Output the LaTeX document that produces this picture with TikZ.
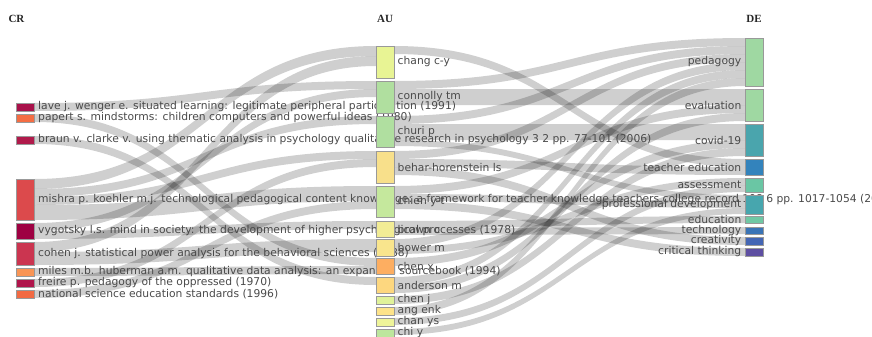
\documentclass[tikz,border=0pt]{standalone}
\usepackage{fontspec}
\setmainfont{DejaVu Sans}
\newfontfamily\hdrfont{Liberation Serif}
\usetikzlibrary{calc}
\pgfdeclarelayer{bg}
\pgfsetlayers{bg,main}
% CR colours
\definecolor{cLave}{HTML}{A8114A}
\definecolor{cPapert}{HTML}{F46D43}
\definecolor{cBraun}{HTML}{B01A4B}
\definecolor{cMishra}{HTML}{DC4A4C}
\definecolor{cVyg}{HTML}{9E0142}
\definecolor{cCohen}{HTML}{CB3550}
\definecolor{cMiles}{HTML}{F99555}
\definecolor{cFreire}{HTML}{B0154B}
\definecolor{cNat}{HTML}{F26A43}
% AU colours
\definecolor{cChang}{HTML}{E8F494}
\definecolor{cConn}{HTML}{B0DF9F}
\definecolor{cChuri}{HTML}{B0DFA0}
\definecolor{cBehar}{HTML}{F8E08B}
\definecolor{cChien}{HTML}{C5E89D}
\definecolor{cBrown}{HTML}{F2EC95}
\definecolor{cBower}{HTML}{F9E58D}
\definecolor{cChenx}{HTML}{FDAE61}
\definecolor{cAnd}{HTML}{FDD77F}
\definecolor{cChenj}{HTML}{E0F29A}
\definecolor{cAng}{HTML}{FDE38A}
\definecolor{cChan}{HTML}{EEF49A}
\definecolor{cChi}{HTML}{BDE69D}
% DE colours
\definecolor{cPed}{HTML}{9FD8A2}
\definecolor{cEval}{HTML}{9FD8A2}
\definecolor{cCovid}{HTML}{4AA5AD}
\definecolor{cTeach}{HTML}{3383BC}
\definecolor{cAss}{HTML}{6AC6A4}
\definecolor{cProf}{HTML}{47A6AE}
\definecolor{cEdu}{HTML}{70C8A4}
\definecolor{cTech}{HTML}{3A74B6}
\definecolor{cCrea}{HTML}{4466B4}
\definecolor{cCrit}{HTML}{5E4FA2}
\definecolor{lblc}{HTML}{4A4A4A}

\tikzset{
  nd/.style={draw=black!40, line width=0.4pt, inner sep=0pt, outer sep=0pt, minimum width=18pt},
  lblL/.style={anchor=west, text=lblc, inner sep=0pt, font=\fontsize{10.75}{11}\selectfont},
  lblR/.style={anchor=east, text=lblc, inner sep=0pt, font=\fontsize{10.75}{11}\selectfont},
  hdr/.style={text=black!85, inner sep=0pt, font=\hdrfont\bfseries\fontsize{11}{12}\selectfont},
  flowfill/.style={fill=black, fill opacity=0.19},
}
% node: name, left x, top y, bottom y, colour
\newcommand\mkbox[5]{\node[nd, fill=#5, minimum height={(#4-#3)*1pt}] (#1) at ({#2+9},{(#3+#4)/2}) {};}
% flow: source node, source top y, target node, target top y, width
\newcommand\flow[5]{%
  \begin{pgfonlayer}{bg}
  \path let \p1=(#1.east |- 0,#2), \p2=(#3.west |- 0,#4) in
    [flowfill] (\p1) .. controls ({(\x1+\x2)/2},\y1) and ({(\x1+\x2)/2},\y2) .. (\p2)
    -- (\x2,{\y2-#5pt}) .. controls ({(\x1+\x2)/2},{\y2-#5pt}) and ({(\x1+\x2)/2},{\y1-#5pt}) .. (\x1,{\y1-#5pt}) -- cycle;
  \end{pgfonlayer}}

\begin{document}
\begin{tikzpicture}[x=1pt,y=-1pt]
\useasboundingbox (0,0) rectangle (872,337);
\begin{pgfonlayer}{bg}
\fill[white] (0,0) rectangle (872,337);
\end{pgfonlayer}

% headers
\node[hdr] (hCR) at (16.5,18.5) {CR};
\node[hdr] (hAU) at (385,18.5) {AU};
\node[hdr] (hDE) at (754,18.5) {DE};

% CR column
\mkbox{cr1}{16.5}{103}{111}{cLave}
\node[lblL] (cr1l) at ($(cr1.east)+(3.5,0)$) {lave j. wenger e. situated learning: legitimate peripheral participation (1991)};
\mkbox{cr2}{16.5}{114}{122}{cPapert}
\node[lblL] (cr2l) at ($(cr2.east)+(3.5,0)$) {papert s. mindstorms: children computers and powerful ideas (1980)};
\mkbox{cr3}{16.5}{136}{144}{cBraun}
\node[lblL] (cr3l) at ($(cr3.east)+(3.5,0)$) {braun v. clarke v. using thematic analysis in psychology qualitative research in psychology 3 2 pp. 77-101 (2006)};
\mkbox{cr4}{16.5}{179}{220}{cMishra}
\node[lblL] (cr4l) at ($(cr4.east)+(3.5,0)$) {mishra p. koehler m.j. technological pedagogical content knowledge: a framework for teacher knowledge teachers college record 108 6 pp. 1017-1054 (2006)};
\mkbox{cr5}{16.5}{223}{239}{cVyg}
\node[lblL] (cr5l) at ($(cr5.east)+(3.5,0)$) {vygotsky l.s. mind in society: the development of higher psychological processes (1978)};
\mkbox{cr6}{16.5}{242}{265}{cCohen}
\node[lblL] (cr6l) at ($(cr6.east)+(3.5,0)$) {cohen j. statistical power analysis for the behavioral sciences (1988)};
\mkbox{cr7}{16.5}{268}{276}{cMiles}
\node[lblL] (cr7l) at ($(cr7.east)+(3.5,0)$) {miles m.b. huberman a.m. qualitative data analysis: an expanded sourcebook (1994)};
\mkbox{cr8}{16.5}{279}{287}{cFreire}
\node[lblL] (cr8l) at ($(cr8.east)+(3.5,0)$) {freire p. pedagogy of the oppressed (1970)};
\mkbox{cr9}{16.5}{290}{298}{cNat}
\node[lblL] (cr9l) at ($(cr9.east)+(3.5,0)$) {national science education standards (1996)};

% AU column
\mkbox{au1}{376}{46}{78}{cChang}
\node[lblL] (au1l) at ($(au1.east)+(3.5,0)$) {chang c-y};
\mkbox{au2}{376}{81}{113}{cConn}
\node[lblL] (au2l) at ($(au2.east)+(3.5,0)$) {connolly tm};
\mkbox{au3}{376}{116}{147}{cChuri}
\node[lblL] (au3l) at ($(au3.east)+(3.5,0)$) {churi p};
\mkbox{au4}{376}{151}{183}{cBehar}
\node[lblL] (au4l) at ($(au4.east)+(3.5,0)$) {behar-horenstein ls};
\mkbox{au5}{376}{186}{217}{cChien}
\node[lblL] (au5l) at ($(au5.east)+(3.5,0)$) {chien y-t};
\mkbox{au6}{376}{221}{237}{cBrown}
\node[lblL] (au6l) at ($(au6.east)+(3.5,0)$) {brown c};
\mkbox{au7}{376}{239}{256}{cBower}
\node[lblL] (au7l) at ($(au7.east)+(3.5,0)$) {bower m};
\mkbox{au8}{376}{258}{274}{cChenx}
\node[lblL] (au8l) at ($(au8.east)+(3.5,0)$) {chen x};
\mkbox{au9}{376}{277}{293}{cAnd}
\node[lblL] (au9l) at ($(au9.east)+(3.5,0)$) {anderson m};
\mkbox{au10}{376}{296}{304}{cChenj}
\node[lblL] (au10l) at ($(au10.east)+(3.5,0)$) {chen j};
\mkbox{au11}{376}{307}{315}{cAng}
\node[lblL] (au11l) at ($(au11.east)+(3.5,0)$) {ang enk};
\mkbox{au12}{376}{318}{326}{cChan}
\node[lblL] (au12l) at ($(au12.east)+(3.5,0)$) {chan ys};
\mkbox{au13}{376}{329}{337}{cChi}
\node[lblL] (au13l) at ($(au13.east)+(3.5,0)$) {chi y};

% DE column
\mkbox{de1}{745}{38}{86}{cPed}
\node[lblR] (de1l) at ($(de1.west)+(-3.5,0)$) {pedagogy};
\mkbox{de2}{745}{89}{121}{cEval}
\node[lblR] (de2l) at ($(de2.west)+(-3.5,0)$) {evaluation};
\mkbox{de3}{745}{124}{156}{cCovid}
\node[lblR] (de3l) at ($(de3.west)+(-3.5,0)$) {covid-19};
\mkbox{de4}{745}{159}{175}{cTeach}
\node[lblR] (de4l) at ($(de4.west)+(-3.5,0)$) {teacher education};
\mkbox{de5}{745}{178}{192}{cAss}
\node[lblR] (de5l) at ($(de5.west)+(-3.5,0)$) {assessment};
\mkbox{de6}{745}{195}{214}{cProf}
\node[lblR] (de6l) at ($(de6.west)+(-3.5,0)$) {professional development};
\mkbox{de7}{745}{216}{223}{cEdu}
\node[lblR] (de7l) at ($(de7.west)+(-3.5,0)$) {education};
\mkbox{de8}{745}{227}{234}{cTech}
\node[lblR] (de8l) at ($(de8.west)+(-3.5,0)$) {technology};
\mkbox{de9}{745}{237}{245}{cCrea}
\node[lblR] (de9l) at ($(de9.west)+(-3.5,0)$) {creativity};
\mkbox{de10}{745}{248}{256}{cCrit}
\node[lblR] (de10l) at ($(de10.west)+(-3.5,0)$) {critical thinking};

% CR -> AU flows
\flow{cr1}{103}{au2}{81}{8}
\flow{cr2}{114}{au8}{258}{8}
\flow{cr3}{136}{au9}{277}{8}
\flow{cr4}{179}{au1}{46}{10}
\flow{cr4}{189}{au3}{116}{8}
\flow{cr4}{197}{au4}{151}{8}
\flow{cr4}{205}{au5}{186}{15}
\flow{cr5}{223}{au2}{89}{8}
\flow{cr5}{231}{au6}{221}{8}
\flow{cr6}{242}{au1}{56}{10}
\flow{cr6}{252}{au7}{239}{13}
\flow{cr7}{268}{au8}{266}{8}
\flow{cr8}{279}{au4}{159}{8}
\flow{cr9}{290}{au5}{201}{8}

% AU -> DE flows
\flow{au1}{46}{de4}{159}{8}
\flow{au2}{81}{de1}{38}{8}
\flow{au2}{89}{de2}{89}{16}
\flow{au3}{116}{de1}{46}{8}
\flow{au3}{124}{de3}{124}{16}
\flow{au3}{140}{de6}{195}{6}
\flow{au4}{151}{de1}{54}{8}
\flow{au4}{159}{de4}{167}{8}
\flow{au4}{167}{de9}{237}{8}
\flow{au5}{186}{de2}{105}{8}
\flow{au5}{194}{de6}{201}{7}
\flow{au5}{201}{de10}{248}{8}
\flow{au6}{221}{de7}{216}{7}
\flow{au6}{228}{de8}{227}{7}
\flow{au7}{239}{de1}{62}{8}
\flow{au7}{247}{de5}{178}{7}
\flow{au8}{258}{de3}{140}{8}
\flow{au9}{277}{de1}{70}{8}
\flow{au9}{285}{de2}{113}{8}
\flow{au10}{296}{de3}{148}{8}
\flow{au11}{307}{de1}{78}{8}
\flow{au12}{318}{de5}{185}{7}
\flow{au13}{329}{de6}{208}{6}
\end{tikzpicture}
\end{document}
